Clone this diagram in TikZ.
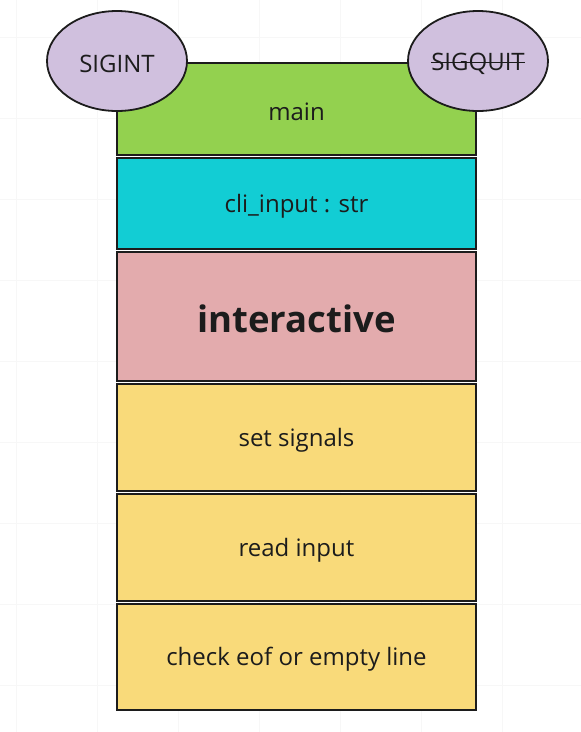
\documentclass[tikz,border=0pt]{standalone}
\usepackage{fontspec}
\setmainfont{Open Sans}
\usetikzlibrary{shapes.geometric}
\definecolor{gridc}{HTML}{F7F7F7}
\definecolor{linec}{HTML}{1C1C1C}
\definecolor{greenc}{HTML}{93D14F}
\definecolor{cyanc}{HTML}{12CDD4}
\definecolor{pinkc}{HTML}{E3ABAD}
\definecolor{yellowc}{HTML}{F9DA7A}
\definecolor{lavc}{HTML}{D0C0DE}
\newcommand{\lowtxt}[1]{\raisebox{-2.5pt}[\height][\depth]{#1}}
\begin{document}
\begin{tikzpicture}[x=1pt,y=-1pt,
  box/.style={draw=linec,line width=2.4pt,rectangle,minimum width=359pt,inner sep=0pt,
    text=linec,font=\fontsize{24}{28}\selectfont},
  sig/.style={draw=linec,line width=1.8pt,ellipse,fill=lavc,minimum width=140pt,
    minimum height=100pt,inner sep=0pt,text=linec,font=\fontsize{24}{28}\selectfont}]
\useasboundingbox[fill=white] (0,0) rectangle (581,732);
% faint background grid
\foreach \gx in {16,97,178,259,340,421,502}
  \draw[gridc,line width=0.8pt] (\gx,0) -- (\gx,732);
\foreach \gy in {37,118,199,280,361,442,523,604,685}
  \draw[gridc,line width=0.8pt] (0,\gy) -- (581,\gy);
% stacked boxes
\node[box,fill=greenc,minimum height=92pt] (main) at (296.5,109) {\lowtxt{main}};
\node[box,fill=cyanc,minimum height=91pt] (cli) at (296.5,203.5) {\lowtxt{cli\_input : str}};
\node[box,fill=pinkc,minimum height=129pt,font=\fontsize{36.5}{40}\selectfont\bfseries] (inter) at (296.5,316.5) {\lowtxt{interactive}};
\node[box,fill=yellowc,minimum height=107pt] (set) at (296.5,437.5) {\lowtxt{set signals}};
\node[box,fill=yellowc,minimum height=107pt] (read) at (296.5,547.5) {\lowtxt{read input}};
\node[box,fill=yellowc,minimum height=106pt] (check) at (296.5,657) {\lowtxt{check eof or empty line}};
% signal ellipses
\node[sig] (sigint) at (117,61) {\lowtxt{SIGINT}};
\node[sig] (sigquit) at (478,61) {};
\node[inner sep=0pt,text=linec,font=\fontsize{24}{28}\selectfont] (qtext) at ([yshift=-2.5pt]sigquit) {SIGQUIT};
\draw[linec,line width=1.6pt] ([yshift=7.5pt]qtext.base west) -- ([yshift=7.5pt]qtext.base east);
\end{tikzpicture}
\end{document}
